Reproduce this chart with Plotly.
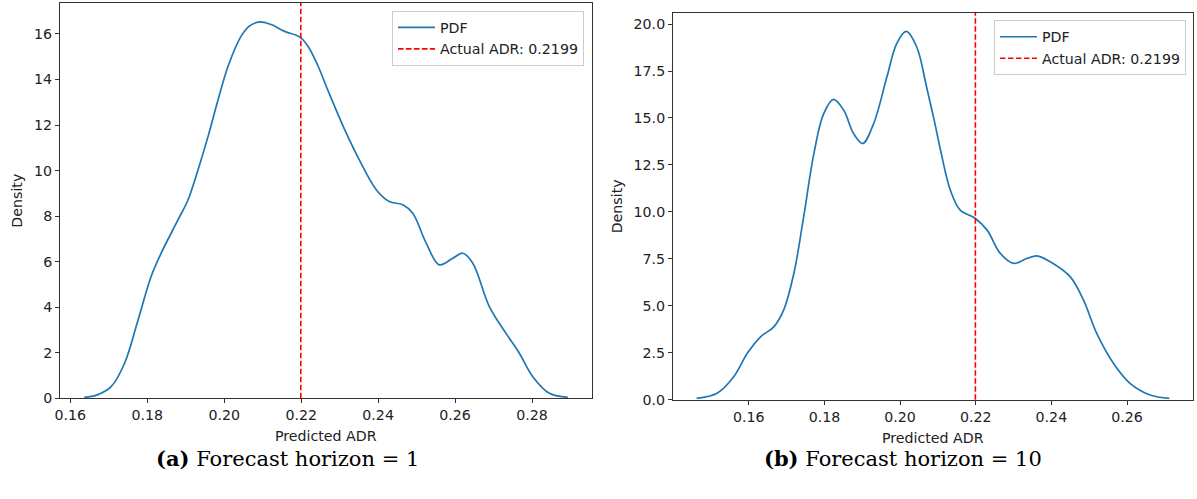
import plotly.graph_objects as go

# Kernel density estimate of predicted ADR, forecast horizon = 1
adr_h1 = [0.1636, 0.1670, 0.1706, 0.1741, 0.1776, 0.1810, 0.1836, 0.1880, 0.1906,
          0.1932, 0.1958, 0.1984, 0.2010, 0.2044, 0.2066, 0.2092, 0.2122, 0.2157,
          0.2196, 0.2218, 0.2244, 0.2270, 0.2317, 0.2351, 0.2395, 0.2429, 0.2464,
          0.2490, 0.2525, 0.2559, 0.2594, 0.2620, 0.2646, 0.2689, 0.2732, 0.2767,
          0.2802, 0.2845, 0.2893]
pdf_h1 = [0.04, 0.15, 0.51, 1.54, 3.44, 5.35, 6.37, 7.84, 8.72,
          10.04, 11.50, 13.11, 14.58, 15.90, 16.35, 16.53, 16.41, 16.11,
          15.87, 15.45, 14.58, 13.50, 11.65, 10.47, 9.16, 8.64, 8.50,
          8.13, 6.81, 5.86, 6.15, 6.37, 5.93, 4.03, 2.86, 1.98,
          0.95, 0.22, 0.04]

# Kernel density estimate of predicted ADR, forecast horizon = 10
adr_h10 = [0.1462, 0.1516, 0.1560, 0.1596, 0.1631, 0.1666, 0.1692, 0.1719, 0.1745,
           0.1772, 0.1798, 0.1824, 0.1851, 0.1877, 0.1901, 0.1930, 0.1965, 0.1991,
           0.2016, 0.2044, 0.2070, 0.2090, 0.2107, 0.2133, 0.2159, 0.2199, 0.2230,
           0.2265, 0.2300, 0.2335, 0.2362, 0.2397, 0.2450, 0.2485, 0.2520, 0.2564,
           0.2608, 0.2661, 0.2712]
pdf_h10 = [0.07, 0.34, 1.22, 2.47, 3.35, 3.88, 4.77, 6.72, 9.73,
           13.10, 15.23, 15.99, 15.41, 14.17, 13.64, 14.70, 17.18, 18.96,
           19.61, 18.78, 16.65, 14.90, 13.28, 11.15, 10.09, 9.65, 9.03,
           7.79, 7.26, 7.52, 7.66, 7.34, 6.54, 5.30, 3.53, 1.94,
           0.87, 0.25, 0.07]

actual_adr = 0.2199
adr_label = f"Actual ADR: {actual_adr}"

x_ticks_h1 = [0.16, 0.18, 0.20, 0.22, 0.24, 0.26, 0.28]
y_ticks_h1 = [0, 2, 4, 6, 8, 10, 12, 14, 16]
x_ticks_h10 = [0.16, 0.18, 0.20, 0.22, 0.24, 0.26]
y_ticks_h10 = [0.0, 2.5, 5.0, 7.5, 10.0, 12.5, 15.0, 17.5, 20.0]

captions = ["<b>(a)</b> Forecast horizon = 1", "<b>(b)</b> Forecast horizon = 10"]

W, H = 1197, 499
BLUE = "#1f77b4"
TXT = "#222222"
FONT = "DejaVu Sans"
FS = 14.2


def px(x):
    return x / W


def py(y):
    return 1 - y / H


def padded(vals, frac=0.05):
    lo, hi = min(vals), max(vals)
    pad = (hi - lo) * frac
    return [lo - pad, hi + pad]


fig = go.Figure()

panels = [
    dict(x=adr_h1, y=pdf_h1, xt=x_ticks_h1, yt=y_ticks_h1, yfmt="d",
         dom_x=(60, 592), dom_y=(3, 398.3), ylab_x=17,
         legend="legend", xa="x", ya="y"),
    dict(x=adr_h10, y=pdf_h10, xt=x_ticks_h10, yt=y_ticks_h10, yfmt=".1f",
         dom_x=(673, 1193), dom_y=(13, 399.7), ylab_x=617,
         legend="legend2", xa="x2", ya="y2"),
]

layout = dict(
    width=W, height=H,
    margin=dict(l=0, r=0, t=0, b=0, autoexpand=False),
    paper_bgcolor="white", plot_bgcolor="white",
    font=dict(family=FONT, size=FS, color=TXT),
    annotations=[], shapes=[],
)

for i, p in enumerate(panels):
    sfx = "" if i == 0 else "2"
    fig.add_trace(go.Scatter(
        x=p["x"], y=p["y"], mode="lines", name="PDF",
        line=dict(color=BLUE, width=1.7, shape="spline", smoothing=1.0),
        xaxis=p["xa"], yaxis=p["ya"], legend=p["legend"], legendrank=1,
    ))
    axis_common = dict(
        showgrid=False, zeroline=False, showline=True, mirror=True,
        linecolor="#333333", linewidth=1, ticks="outside", ticklen=4,
        tickwidth=1, tickcolor="#333333", automargin=False,
        tickfont=dict(family=FONT, size=FS, color=TXT),
    )
    layout["xaxis" + sfx] = dict(
        axis_common, domain=[px(p["dom_x"][0]), px(p["dom_x"][1])],
        range=padded(p["x"]), tickvals=p["xt"], tickformat=".2f",
        anchor="y" + sfx,
    )
    y_top = max(p["y"]) * 1.05
    layout["yaxis" + sfx] = dict(
        axis_common, domain=[py(p["dom_y"][1]), py(p["dom_y"][0])],
        range=[0, y_top], tickvals=p["yt"], tickformat=p["yfmt"],
        anchor="x" + sfx,
    )
    # dashed marker for the realised ADR
    layout["shapes"].append(dict(
        type="line", xref=p["xa"], yref=f"{p['ya']} domain",
        x0=actual_adr, x1=actual_adr, y0=0, y1=1,
        line=dict(color="#ff0000", width=1.6, dash="5.5px,2.5px"),
        showlegend=True, name=adr_label, legend=p["legend"], legendrank=2,
    ))
    cx = (p["dom_x"][0] + p["dom_x"][1]) / 2
    cy = (p["dom_y"][0] + p["dom_y"][1]) / 2
    layout["annotations"].append(dict(
        text="Predicted ADR", x=px(cx), y=py(p["dom_y"][1] + 38),
        xref="paper", yref="paper", showarrow=False,
        xanchor="center", yanchor="middle",
        font=dict(family=FONT, size=FS, color=TXT),
    ))
    layout["annotations"].append(dict(
        text="Density", x=px(p["ylab_x"]), y=py(cy),
        xref="paper", yref="paper", showarrow=False, textangle=-90,
        xanchor="center", yanchor="middle",
        font=dict(family=FONT, size=FS, color=TXT),
    ))

# sub-figure captions
for cap, cx in zip(captions, [287, 903]):
    layout["annotations"].append(dict(
        text=cap, x=px(cx), y=py(458), xref="paper", yref="paper",
        showarrow=False, xanchor="center", yanchor="middle",
        font=dict(family="DejaVu Serif", size=21, color="black"),
    ))

legend_style = dict(
    bgcolor="rgba(255,255,255,0.8)", bordercolor="#cccccc", borderwidth=1,
    font=dict(family=FONT, size=FS, color=TXT),
    xanchor="right", yanchor="top", itemwidth=37, tracegroupgap=0,
)
layout["legend"] = dict(legend_style, x=px(584), y=py(10.7))
layout["legend2"] = dict(legend_style, x=px(1186), y=py(20))

fig.update_layout(**layout)
fig.write_html("out.html")
